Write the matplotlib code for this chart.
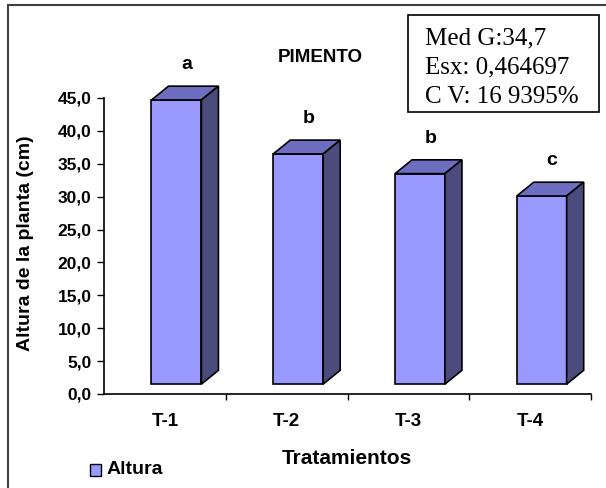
import matplotlib
matplotlib.use("Agg")
import matplotlib.pyplot as plt  # noqa: E402
from matplotlib.patches import Polygon, Rectangle  # noqa: E402

TREATMENTS = ["T-1", "T-2", "T-3", "T-4"]
HEIGHTS = [43.2, 35.0, 32.0, 28.6]
GROUPS = ["a", "b", "b", "c"]
Y_TICKS = [0, 5, 10, 15, 20, 25, 30, 35, 40, 45]
STATS = ["Med G:34,7", "Esx: 0,464697", "C V: 16 9395%"]

FRONT = "#9999ff"
TOP = "#6e6ec0"
SIDE = "#4b4b7e"
W, H = 606, 488

# 3-D look: floor offset of the front face and the depth shift of the back face
BASE = 1.5
BAR_LEFT = 0.39
BAR_W = 0.41
DX = 0.14
DY = 2.1

plt.rcParams["font.family"] = ["Liberation Sans", "DejaVu Sans"]

fig = plt.figure(figsize=(W / 100, H / 100), dpi=100)
ax = fig.add_axes([104 / W, (H - 394) / H, 487 / W, 296 / H])

for i, (h, g) in enumerate(zip(HEIGHTS, GROUPS)):
    x0 = i + BAR_LEFT
    x1 = x0 + BAR_W
    y0 = BASE
    y1 = BASE + h
    ax.add_patch(Rectangle((x0, y0), BAR_W, h, facecolor=FRONT,
                           edgecolor="black", lw=1.2, clip_on=False, zorder=3))
    ax.add_patch(Polygon([(x0, y1), (x0 + DX, y1 + DY), (x1 + DX, y1 + DY), (x1, y1)],
                         closed=True, facecolor=TOP, edgecolor="black", lw=1.2,
                         clip_on=False, zorder=3))
    ax.add_patch(Polygon([(x1, y0), (x1 + DX, y0 + DY), (x1 + DX, y1 + DY), (x1, y1)],
                         closed=True, facecolor=SIDE, edgecolor="black", lw=1.2,
                         clip_on=False, zorder=3))
    ax.text(x0 + BAR_W / 2 + DX * 0.6, y1 + DY + 3.3, g, ha="center", va="center",
            fontsize=14, fontweight="bold", clip_on=False)

ax.set_xlim(0, 4)
ax.set_ylim(0, 45)
ax.set_yticks(Y_TICKS)
ax.set_yticklabels([f"{v:.1f}".replace(".", ",") for v in Y_TICKS],
                   fontsize=12.5, fontweight="bold")
ax.set_xticks([1, 2, 3, 4])
ax.set_xticklabels([])
ax.set_xticks([i + 0.5 for i in range(4)], minor=True)
ax.set_xticklabels(TREATMENTS, minor=True, fontsize=13.5, fontweight="bold")
ax.tick_params(axis="x", which="minor", length=0, pad=14)
ax.tick_params(axis="x", which="major", length=4, width=1, direction="out")
ax.tick_params(axis="y", length=5, width=1, direction="out", pad=4)
for side in ("top", "right"):
    ax.spines[side].set_visible(False)
for side in ("left", "bottom"):
    ax.spines[side].set_linewidth(1.2)

fig.text(26 / W, 1 - 243 / H, "Altura de la planta (cm)", rotation=90,
         ha="center", va="center", fontsize=14, fontweight="bold")
fig.text(347 / W, 1 - 458 / H, "Tratamientos", ha="center", va="center",
         fontsize=15, fontweight="bold")
fig.text(320 / W, 1 - 58 / H, "PIMENTO", ha="center", va="center",
         fontsize=13.5, fontweight="bold")

# legend key and label
fig.patches.append(Rectangle((90 / W, 1 - 476 / H), 11 / W, 12 / H, facecolor=FRONT,
                             edgecolor="black", lw=1, transform=fig.transFigure))
fig.text(107 / W, 1 - 470 / H, "Altura", ha="left", va="center",
         fontsize=14, fontweight="bold")

# statistics box
fig.patches.append(Rectangle((408 / W, 1 - 112 / H), 191 / W, 97 / H, fill=False,
                             edgecolor="black", lw=1.2, transform=fig.transFigure))
for k, line in enumerate(STATS):
    fig.text(425 / W, 1 - (38 + 29.5 * k) / H, line, ha="left", va="center",
             fontsize=18, family="Liberation Serif")

# outer chart frame
fig.patches.append(Rectangle((8 / W, -0.1), 1.0, 1 - 5 / H + 0.1, fill=False,
                             edgecolor="#404040", lw=1.5, transform=fig.transFigure))

fig.savefig("out.png", dpi=100)
